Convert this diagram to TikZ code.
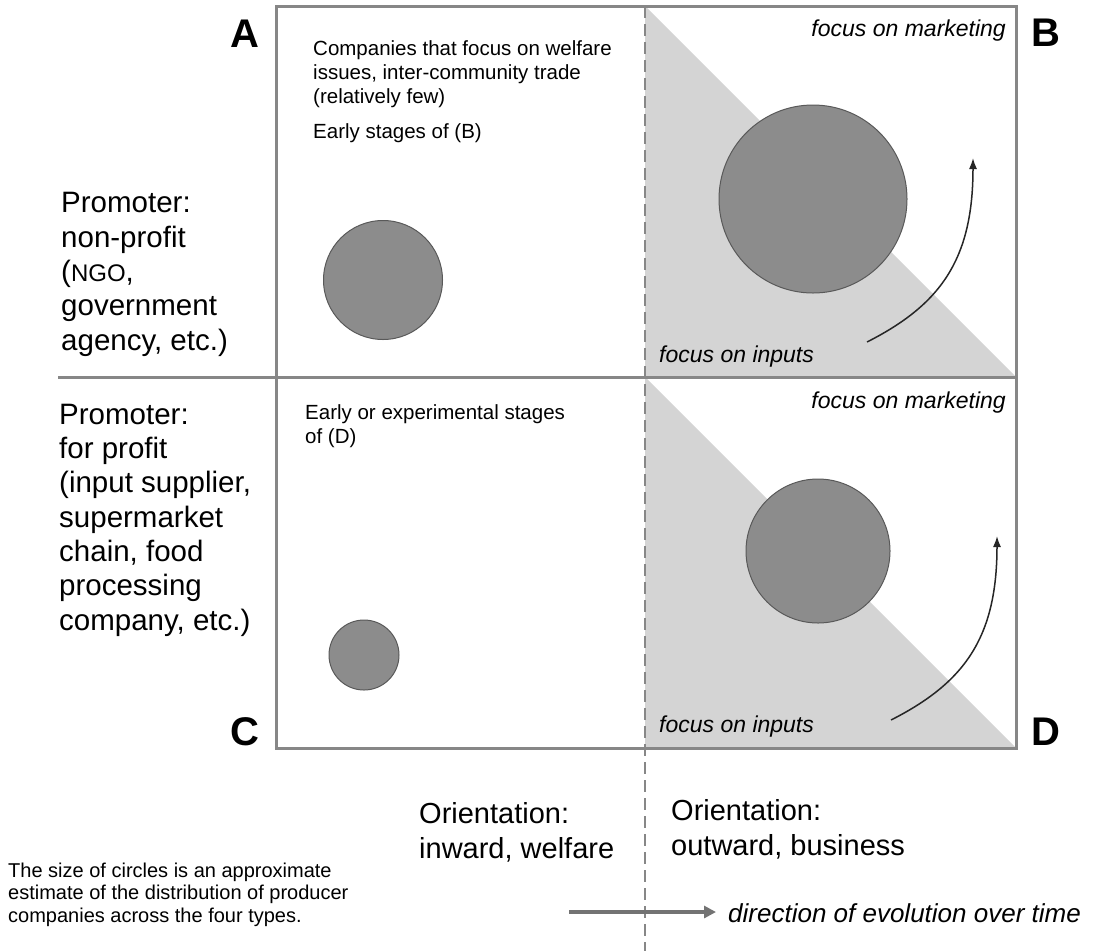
\documentclass[tikz,border=0pt]{standalone}
\usepackage{fontspec}
\setmainfont{Liberation Sans}
\usetikzlibrary{arrows.meta}
\definecolor{linegray}{gray}{0.53}
\definecolor{wedgegray}{gray}{0.83}
\definecolor{bubblegray}{gray}{0.55}
\definecolor{rimgray}{gray}{0.35}
\definecolor{evogray}{gray}{0.45}
\tikzset{
    every node/.style={inner sep=0pt, align=left},
    corner/.style={font=\fontsize{40}{40}\selectfont\bfseries},
    side/.style={anchor=base west, font=\fontsize{29.5}{34.3}\selectfont},
    note/.style={anchor=base west, font=\fontsize{20.5}{24}\selectfont},
    focus/.style={font=\fontsize{23}{23}\selectfont\itshape},
    bubble/.style={circle, draw=rimgray, fill=bubblegray, line width=1pt},
    wedge/.style={fill=wedgegray},
    boxline/.style={draw=linegray, line width=3pt},
    divider/.style={draw=linegray, line width=2pt, dash pattern=on 12pt off 6pt},
    trend/.style={draw=black!85, line width=1.5pt, -{Latex[length=11pt,width=8pt]}}
}

\begin{document}
\begin{tikzpicture}[x=1pt,y=-1pt]
    \useasboundingbox (0,0) rectangle (1094,951);
    % grid corners
    \coordinate (nw) at (276,6);
    \coordinate (se) at (1016,748);
    % shaded halves of B and D
    \fill[wedge] (645,6) -- (645,377) -- (1016,377) -- cycle;
    \fill[wedge] (645,377) -- (645,748) -- (1016,748) -- cycle;
    % circles
    \node[bubble, minimum size=119pt] (cA) at (383,280) {};
    \node[bubble, minimum size=188pt] (cB) at (813,199) {};
    \node[bubble, minimum size=70pt] (cC) at (364,655) {};
    \node[bubble, minimum size=144pt] (cD) at (818,551) {};
    % frame and dividers
    \draw[boxline] (nw) rectangle (se);
    \draw[boxline] (58,377) -- (1016,377);
    \draw[divider] (645,6) -- (645,951);
    % corner letters
    \node[corner, anchor=base] (lA) at (245,47) {A};
    \node[corner, anchor=base] (lB) at (1046,46) {B};
    \node[corner, anchor=base] (lC) at (245,745) {C};
    \node[corner, anchor=base] (lD) at (1046,745) {D};
    % promoters (base = last line)
    \node[side] (nonprofit) at (61,350) {Promoter:\\non-profit\\({\fontsize{24}{24}\selectfont NGO},\\government\\agency, etc.)};
    \node[side] (forprofit) at (59,630) {Promoter:\\for profit\\(input supplier,\\supermarket\\chain, food\\processing\\company, etc.)};
    % notes in A and C
    \node[note] (welfare) at (313,103) {Companies that focus on welfare\\issues, inter-community trade\\(relatively few)};
    \node[note] (earlyB) at (313,138) {Early stages of (B)};
    \node[note] (earlyD) at (305,443) {Early or experimental stages\\of (D)};
    % focus labels
    \node[focus, anchor=base east] (mktB) at (1006,36) {focus on marketing};
    \node[focus, anchor=base west] (inpB) at (659,362) {focus on inputs};
    \node[focus, anchor=base east] (mktD) at (1006,408) {focus on marketing};
    \node[focus, anchor=base west] (inpD) at (659,732) {focus on inputs};
    % evolution arrows
    \coordinate (sB) at (867,342);
    \coordinate (tB) at (973,158);
    \draw[trend] (sB) .. controls (940,305) and (973,260) .. (tB);
    \coordinate (sD) at (891,720);
    \coordinate (tD) at (997,536);
    \draw[trend] (sD) .. controls (964,683) and (997,638) .. (tD);
    % orientation
    \node[side, font=\fontsize{29}{35}\selectfont] (inward) at (419,858) {Orientation:\\inward, welfare};
    \node[side, font=\fontsize{29}{35}\selectfont] (outward) at (671,855) {Orientation:\\outward, business};
    % footnote
    \node[anchor=base west, font=\fontsize{20}{22.5}\selectfont] (size) at (8,922) {The size of circles is an approximate\\estimate of the distribution of producer\\companies across the four types.};
    % time arrow
    \coordinate (evoS) at (569,912);
    \coordinate (evoE) at (716,912);
    \draw[draw=evogray, line width=4pt, -{Triangle[length=12pt,width=12pt]}] (evoS) -- (evoE);
    \node[anchor=base west, font=\fontsize{26}{26}\selectfont\itshape] (evo) at (728,922) {direction of evolution over time};
\end{tikzpicture}
\end{document}
